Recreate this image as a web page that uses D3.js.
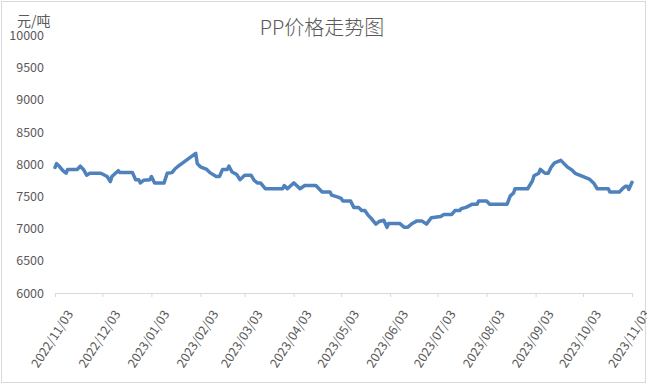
<!DOCTYPE html>
<html>
<head>
<meta charset="utf-8">
<script src="https://cdn.jsdelivr.net/npm/d3@7"></script>
<style>
  html, body { margin: 0; padding: 0; background: #fff; }
  svg { display: block; }
</style>
</head>
<body>
<svg id="chart" width="647" height="384"></svg>
<script>
const title = "PP价格走势图";
const unitLabel = "元/吨";
const dates = [
  "2022-11-03","2022-11-04","2022-11-06","2022-11-08","2022-11-10","2022-11-11","2022-11-17","2022-11-19","2022-11-21","2022-11-23",
  "2022-11-25","2022-12-02","2022-12-06","2022-12-08","2022-12-09","2022-12-13","2022-12-14","2022-12-22","2022-12-24","2022-12-26",
  "2022-12-27","2022-12-29","2023-01-02","2023-01-03","2023-01-05","2023-01-11","2023-01-13","2023-01-16","2023-01-18","2023-01-20",
  "2023-01-31","2023-02-01","2023-02-03","2023-02-07","2023-02-09","2023-02-13","2023-02-15","2023-02-17","2023-02-20","2023-02-21",
  "2023-02-23","2023-02-26","2023-02-28","2023-03-03","2023-03-07","2023-03-09","2023-03-11","2023-03-13","2023-03-16","2023-03-27",
  "2023-03-28","2023-03-30","2023-04-03","2023-04-04","2023-04-07","2023-04-10","2023-04-17","2023-04-19","2023-04-21","2023-04-26",
  "2023-04-27","2023-05-01","2023-05-03","2023-05-04","2023-05-09","2023-05-11","2023-05-14","2023-05-16","2023-05-18","2023-05-20",
  "2023-05-22","2023-05-25","2023-05-27","2023-05-30","2023-06-01","2023-06-02","2023-06-09","2023-06-12","2023-06-14","2023-06-17",
  "2023-06-20","2023-06-23","2023-06-26","2023-06-29","2023-07-05","2023-07-07","2023-07-12","2023-07-14","2023-07-17","2023-07-18",
  "2023-07-21","2023-07-25","2023-07-28","2023-07-29","2023-08-03","2023-08-05","2023-08-16","2023-08-18","2023-08-20","2023-08-21",
  "2023-08-29","2023-09-01","2023-09-02","2023-09-05","2023-09-06","2023-09-09","2023-09-11","2023-09-13","2023-09-15","2023-09-19",
  "2023-09-21","2023-09-23","2023-09-26","2023-09-28","2023-10-02","2023-10-07","2023-10-10","2023-10-12","2023-10-19","2023-10-20",
  "2023-10-26","2023-10-28","2023-10-30","2023-10-31","2023-11-01","2023-11-03"
];
const prices = [
  7950,8010,7960,7900,7860,7920,7920,7970,7920,7830,
  7860,7860,7810,7730,7810,7900,7870,7870,7760,7760,
  7710,7750,7760,7810,7710,7710,7860,7870,7930,7970,
  8170,8010,7960,7920,7870,7810,7810,7920,7920,7970,
  7880,7840,7760,7830,7830,7750,7710,7710,7620,7620,
  7670,7620,7710,7690,7620,7670,7670,7620,7570,7570,
  7520,7490,7470,7430,7430,7330,7330,7280,7280,7210,
  7160,7070,7110,7130,7020,7080,7080,7020,7020,7080,
  7120,7120,7070,7170,7190,7220,7220,7280,7280,7310,
  7330,7380,7380,7430,7430,7380,7380,7510,7550,7620,
  7620,7740,7820,7860,7920,7860,7860,7960,8020,8060,
  8010,7960,7910,7860,7820,7770,7700,7620,7620,7570,
  7570,7620,7660,7660,7610,7720
];
const yTicks = [6000,6500,7000,7500,8000,8500,9000,9500,10000];
const xTickLabels = ["2022/11/03","2022/12/03","2023/01/03","2023/02/03","2023/03/03","2023/04/03",
  "2023/05/03","2023/06/03","2023/07/03","2023/08/03","2023/09/03","2023/10/03","2023/11/03"];

const parse = d3.timeParse("%Y-%m-%d");
const parseTick = d3.timeParse("%Y/%m/%d");
const data = dates.map((d, i) => ({ date: parse(d), value: prices[i] }));
const tickDates = xTickLabels.map(parseTick);

const svg = d3.select("#chart");
const font = "'Noto Sans CJK SC', 'Noto Sans', sans-serif";
const textColor = "#595959";

svg.append("rect").attr("x", 1.5).attr("y", 1.5).attr("width", 644).attr("height", 381)
  .attr("fill", "#fff").attr("stroke", "#d9d9d9").attr("stroke-width", 1);

const x = d3.scaleTime().domain([tickDates[0], tickDates[tickDates.length - 1]]).range([55, 632]);
const y = d3.scaleLinear().domain([6000, 10000]).range([293, 35.5]);

// title
svg.append("text").attr("x", 322).attr("y", 35).attr("text-anchor", "middle")
  .attr("font-family", font).attr("font-size", 20).attr("font-weight", 300)
  .attr("fill", textColor).text(title);
svg.append("text").attr("x", 17).attr("y", 26)
  .attr("font-family", font).attr("font-size", 14).attr("fill", textColor).text(unitLabel);

// y axis (labels only)
const yAxis = d3.axisLeft(y).tickValues(yTicks).tickSize(0).tickPadding(0).tickFormat(d3.format("d"));
const yg = svg.append("g").attr("transform", "translate(44,0)").call(yAxis);
yg.select(".domain").remove();
yg.selectAll("text").attr("font-family", font).attr("font-size", 12.5).attr("fill", textColor);

// x axis
const xAxis = d3.axisBottom(x).tickValues(tickDates).tickSize(4).tickFormat(d3.timeFormat("%Y/%m/%d"));
const xg = svg.append("g").attr("transform", "translate(0,293)").call(xAxis);
xg.select(".domain").attr("stroke", "#d9d9d9").attr("d", "M55.5,0.5H632.5");
xg.selectAll(".tick line").attr("stroke", "#d9d9d9");
xg.selectAll(".tick text")
  .attr("font-family", font).attr("font-size", 12.5).attr("fill", textColor)
  .attr("text-anchor", "end").attr("x", 0).attr("y", 0).attr("dy", "0.35em")
  .attr("transform", "translate(14.5,18.5) rotate(-57)");

// line
const line = d3.line().x(d => x(d.date)).y(d => y(d.value));
svg.append("path").datum(data).attr("d", line)
  .attr("fill", "none").attr("stroke", "#4F81BD").attr("stroke-width", 3.5)
  .attr("stroke-linejoin", "round").attr("stroke-linecap", "round");
</script>
</body>
</html>
